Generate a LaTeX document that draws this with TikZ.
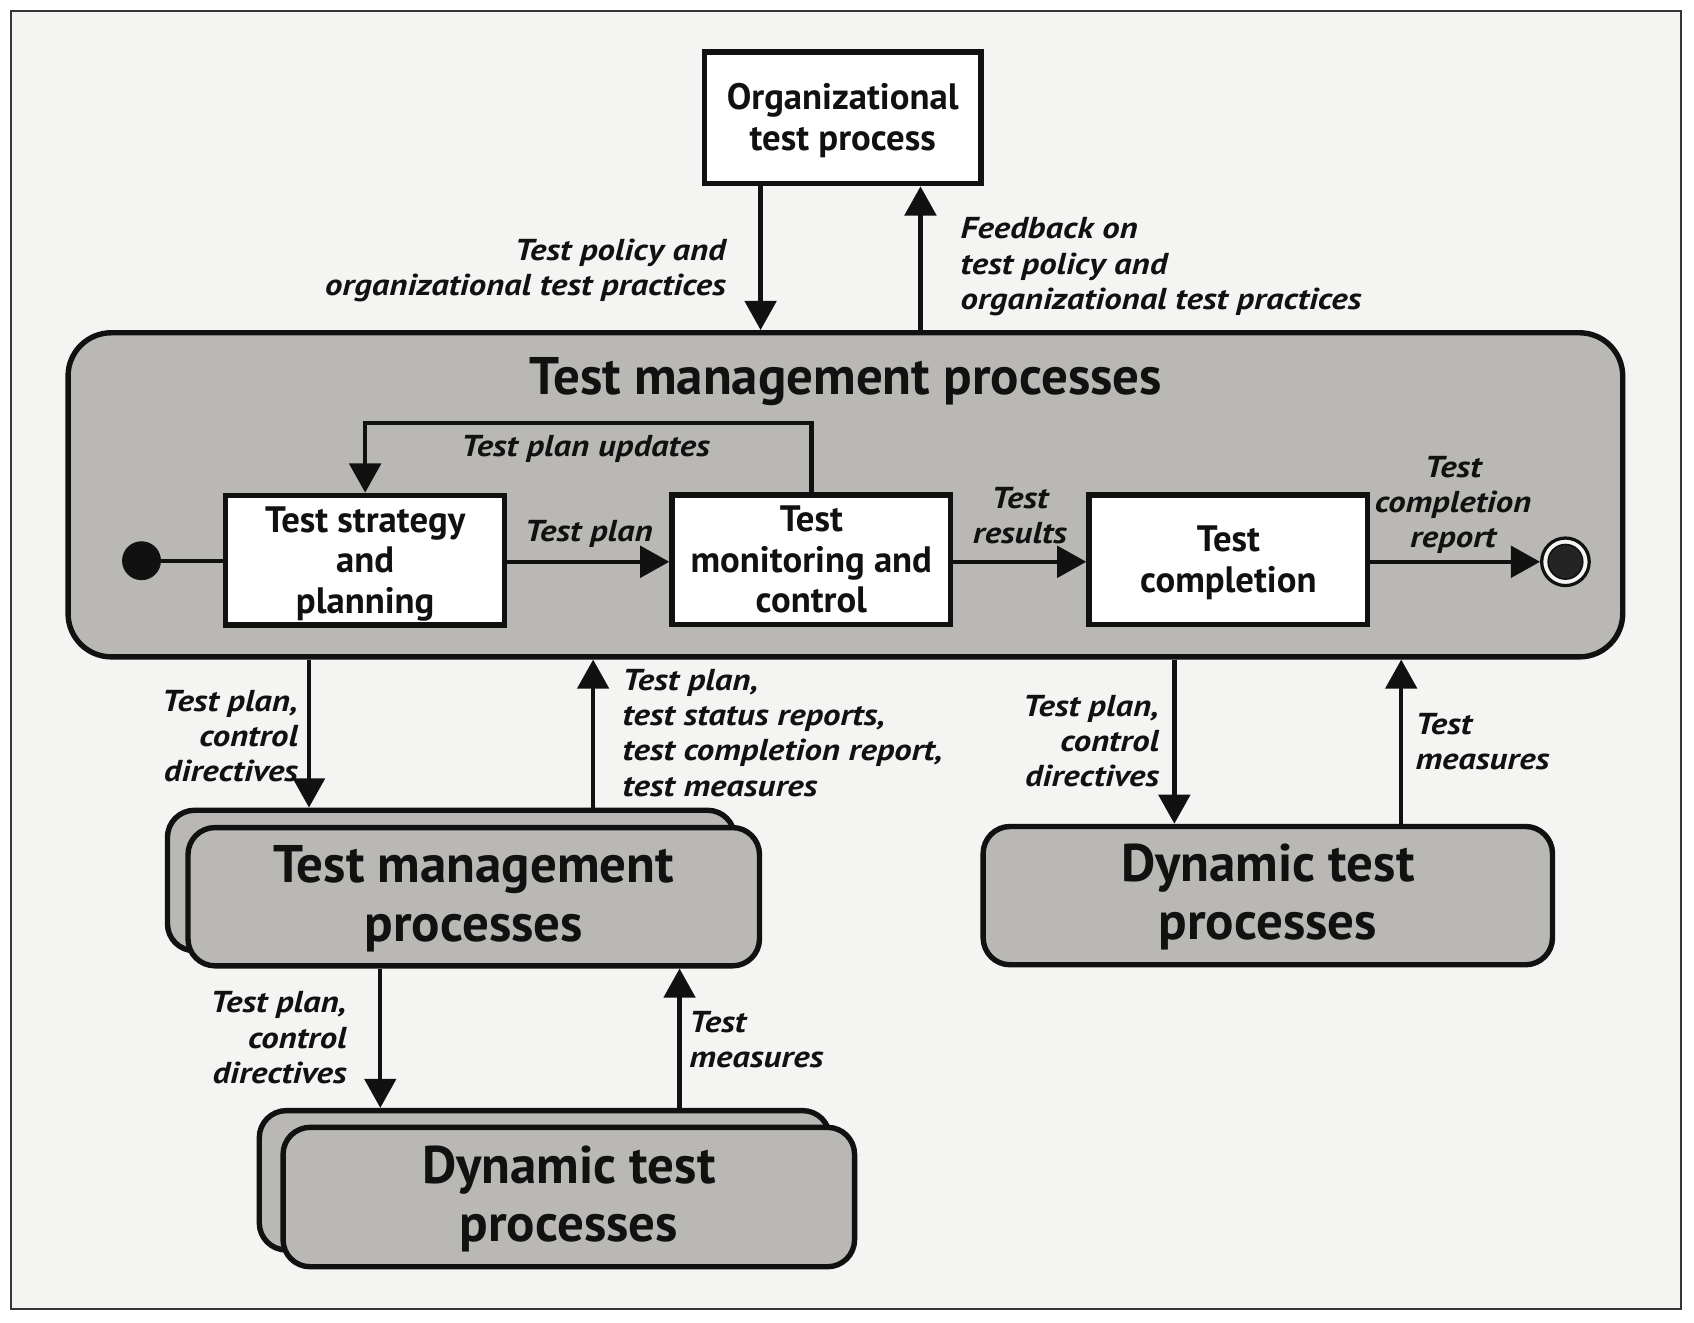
\documentclass[tikz,border=0pt]{standalone}
\usepackage{fontspec}
\setmainfont{PT Sans}
\newfontfamily\lblfont[FakeStretch=1.15]{PT Sans}
\usetikzlibrary{arrows.meta}
\definecolor{bgc}{HTML}{F4F4F2}
\definecolor{boxg}{HTML}{B9B8B4}
\definecolor{ink}{HTML}{111111}
% first-line struts for multi-line node texts
\newcommand\wtop{\rule{0pt}{34pt}}
\newcommand\gtop{\rule{0pt}{44pt}}
\newcommand\ltop{\rule{0pt}{31pt}}
\begin{document}
\begin{tikzpicture}[x=1pt,y=-1pt,
  tstrut/.style 2 args={execute at begin node={\rule{0pt}{#1}}, execute at end node={\rule[-#2]{0pt}{#2}}},
  wbox/.style={draw=ink, fill=white, line width=5pt, inner sep=0pt, align=center, text=ink, tstrut={37pt}{11pt},
    font=\bfseries\fontsize{34}{37.5}\selectfont},
  gbox/.style={draw=ink, fill=boxg, line width=5pt, inner sep=0pt, align=center, text=ink, tstrut={50pt}{16pt},
    rounded corners=25pt, font=\bfseries\fontsize{49}{54}\selectfont},
  lbl/.style={inner sep=0pt, text=ink, tstrut={33pt}{9.75pt}, font=\lblfont\bfseries\itshape\fontsize{28}{32.5}\selectfont},
  arr/.style={draw=ink, line width=4pt, -{Triangle[length=27pt,width=29pt]}},
  conn/.style={draw=ink, line width=4pt}
]
\useasboundingbox (0,0) rectangle (1568,1224);
\fill[white] (0,0) rectangle (1568,1224);
\draw[line width=2pt, draw=ink!85, fill=bgc] (10,10) rectangle (1556,1212);

% helper coordinates
\coordinate (xa) at (704,0);
\coordinate (xb) at (852,0);
\coordinate (xc) at (286,0);
\coordinate (xd) at (549,0);
\coordinate (xe) at (1087,0);
\coordinate (xf) at (1297,0);
\coordinate (xg) at (352,0);
\coordinate (xh) at (629,0);
\coordinate (yrow) at (0,520);

% organizational box
\node[wbox, minimum width=256pt, minimum height=122pt] (org) at (780,109) {\wtop Organizational\\test process};

% big test management box
\node[draw=ink, fill=boxg, line width=5pt, rounded corners=40pt, minimum width=1439pt, minimum height=300pt, inner sep=0pt] (big) at (782.5,458) {};
\node[inner sep=0pt, text=ink, tstrut={48pt}{16pt}, font=\bfseries\fontsize{49}{54}\selectfont] (title) at (783,349) {Test management processes};

\node[wbox, minimum width=258pt, minimum height=119pt] (b1) at (338,518.5) {\wtop Test strategy\\and\\planning};
\node[wbox, minimum width=258pt, minimum height=120pt] (b2) at (751,518) {\wtop Test\\monitoring and\\control};
\node[wbox, minimum width=258pt, minimum height=120pt] (b3) at (1137,518) {\wtop Test\\completion};

\node[circle, fill=ink, minimum size=36pt, inner sep=0pt] (init) at (131,519) {};
\node[circle, draw=ink, line width=3pt, fill=bgc, minimum size=44pt, inner sep=0pt] (final) at (1449,520) {};
\node[circle, draw=ink, line width=1.5pt, fill=ink!92!white, minimum size=32pt, inner sep=0pt] (finalin) at (final.center) {};

% stacked test management boxes
\node[gbox, minimum width=525pt, minimum height=130pt] (tmback) at (417.5,815) {};
\node[gbox, minimum width=529pt, minimum height=128pt] (tmfront) at (438.5,830) {\gtop Test management\\processes};

% stacked dynamic boxes
\node[gbox, minimum width=528pt, minimum height=129pt] (dynback) at (504,1092.5) {};
\node[gbox, minimum width=529pt, minimum height=129pt] (dynfront) at (526.5,1108) {\gtop Dynamic test\\processes};

% right dynamic box
\node[gbox, minimum width=527pt, minimum height=128pt] (dynr) at (1173.5,829) {\gtop Dynamic test\\processes};

% connectors
\draw[arr] (org.south -| xa) -- (big.north -| xa);
\draw[arr] (big.north -| xb) -- (org.south -| xb);
\draw[conn] (init.east) -- (init.east -| b1.west);
\draw[arr] (b1.east |- yrow) -- (b2.west |- yrow);
\draw[arr] (b2.east |- yrow) -- (b3.west |- yrow);
\draw[arr] (b3.east |- yrow) -- (final.west);
\draw[arr] (b2.north) -- ++(0,-64) -| (b1.north);

\draw[arr] (big.south -| xc) -- (tmback.north -| xc);
\draw[arr] (tmback.north -| xd) -- (big.south -| xd);
\draw[arr] (big.south -| xe) -- (dynr.north -| xe);
\draw[arr] (dynr.north -| xf) -- (big.south -| xf);
\draw[arr] (tmfront.south -| xg) -- (dynback.north -| xg);
\draw[arr] (dynback.north -| xh) -- (tmfront.south -| xh);

% labels
\node[lbl, align=right, anchor=east] (l1) at (672,247) {\ltop Test policy and\\organizational test practices};
\node[lbl, align=left, anchor=west] (l2) at (889,243) {\ltop Feedback on\\test policy and\\organizational test practices};
\node[lbl] (l3) at (542,411) {Test plan updates};
\node[lbl] (l4) at (545,490) {Test plan};
\node[lbl, align=center] (l5) at (944,476) {\ltop Test\\results};
\node[lbl, align=center] (l6) at (1345,464) {\ltop Test\\completion\\report};
\node[lbl, align=right, anchor=east] (l7) at (276,680) {\ltop Test plan,\\control\\directives};
\node[lbl, align=left, anchor=west] (l8) at (576,677.5) {\ltop Test plan,\\test status reports,\\test completion report,\\test measures};
\node[lbl, align=right, anchor=east] (l9) at (1073,685) {\ltop Test plan,\\control\\directives};
\node[lbl, align=left, anchor=west] (l10) at (1310,685.5) {\ltop Test\\measures};
\node[lbl, align=right, anchor=east] (l11) at (321,959.5) {\ltop Test plan,\\control\\directives};
\node[lbl, align=left, anchor=west] (l12) at (638,961) {\ltop Test\\measures};
\end{tikzpicture}
\end{document}
